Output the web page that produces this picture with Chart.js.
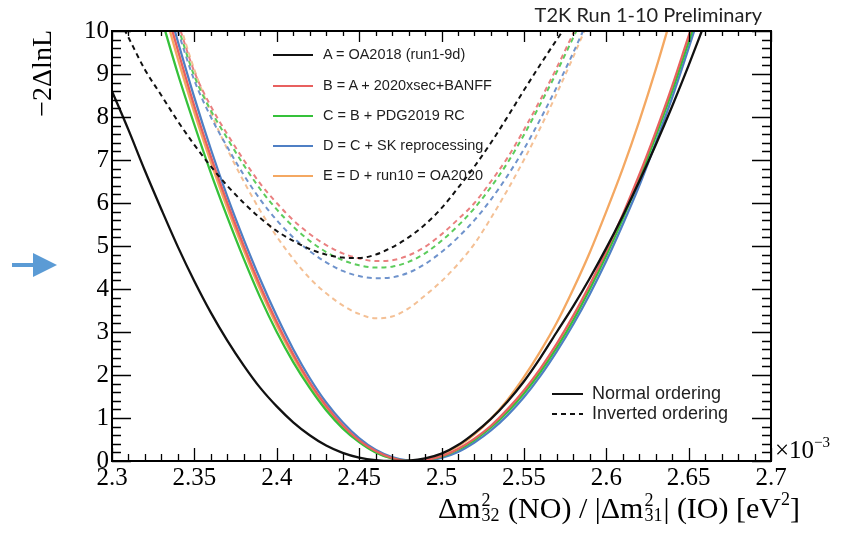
<!DOCTYPE html>
<html>
<head>
<meta charset="utf-8">
<script src="https://cdn.jsdelivr.net/npm/chart.js@4.4.1/dist/chart.umd.min.js"></script>
<style>
  html, body { margin: 0; padding: 0; background: #fff; }
  #wrap { position: relative; width: 853px; height: 535px; overflow: hidden; background: #fff; }
  #c { position: absolute; left: 0; top: 0; }
  .txt { position: absolute; white-space: nowrap; color: #000; }
  #title { right: 91px; top: 2px; font: 20px Lato, "Open Sans", sans-serif; color: #222; }
  #ytitle { left: 27px; top: 150px; width: 120px; text-align: right; transform: rotate(-90deg); transform-origin: left top; font: 28px "Liberation Serif", serif; line-height: 30px; }
  #xtitle { right: 53px; top: 492px; font: 30px "Liberation Serif", serif; line-height: 32px; }
  .ss { display: inline-flex; flex-direction: column; font-size: 18px; line-height: 15px; vertical-align: 12px; margin-left: 1px; margin-right: 1px; }
  #xtitle sup { font-size: 18px; vertical-align: 13px; line-height: 0; }
  #expo { left: 775px; top: 436px; font: 25px "Liberation Serif", serif; line-height: 28px; }
  #expo sup { font-size: 15px; vertical-align: 11px; line-height: 0; }
  .leg { position: absolute; font: 14.5px "Liberation Sans", Arial, sans-serif; color: #1e1e1e; white-space: nowrap; }
  .leg .s { position: absolute; left: -50px; top: 8px; width: 40px; height: 0; border-top: 2px solid #000; }
  .leg2 { position: absolute; font: 18px "Liberation Sans", Arial, sans-serif; color: #1e1e1e; white-space: nowrap; }
  .leg2 .s { position: absolute; left: -40px; top: 10px; width: 31px; height: 2px; }
</style>
</head>
<body>
<div id="wrap">
  <canvas id="c" width="853" height="535"></canvas>
  <div id="title" class="txt">T2K Run 1-10 Preliminary</div>
  <div id="ytitle" class="txt">−2ΔlnL</div>
  <div id="xtitle" class="txt">Δm<span class="ss"><span>2</span><span>32</span></span> (NO) / |Δm<span class="ss"><span>2</span><span>31</span></span>| (IO) [eV<sup>2</sup>]</div>
  <div id="expo" class="txt">×10<sup>−3</sup></div>

  <div class="leg" style="left:323px; top:46px;"><span class="s" style="border-color:#111;"></span>A = OA2018 (run1-9d)</div>
  <div class="leg" style="left:323px; top:77px;"><span class="s" style="border-color:#e8605f;"></span>B = A + 2020xsec+BANFF</div>
  <div class="leg" style="left:323px; top:107px;"><span class="s" style="border-color:#35c13a;"></span>C = B + PDG2019 RC</div>
  <div class="leg" style="left:323px; top:137px;"><span class="s" style="border-color:#4f7fc4;"></span>D = C + SK reprocessing</div>
  <div class="leg" style="left:323px; top:167px;"><span class="s" style="border-color:#f4a862;"></span>E = D + run10 = OA2020</div>

  <div class="leg2" style="left:592px; top:383px;"><span class="s" style="background:#111;"></span>Normal ordering</div>
  <div class="leg2" style="left:592px; top:403px;"><span class="s" style="background:repeating-linear-gradient(to right,#111 0 5px,transparent 5px 9px);"></span>Inverted ordering</div>

  <svg style="position:absolute;left:0;top:240px;" width="70" height="50">
    <line x1="12" y1="25" x2="36" y2="25" stroke="#5b9bd5" stroke-width="4"/>
    <polygon points="33,13 57,25 33,37" fill="#5b9bd5"/>
  </svg>
</div>
<script>
// x grid (10^-3 eV^2)
const dm2 = [2.30,2.31,2.32,2.33,2.34,2.35,2.36,2.37,2.38,2.39,
             2.40,2.41,2.42,2.43,2.44,2.45,2.46,2.47,2.48,2.49,
             2.50,2.51,2.52,2.53,2.54,2.55,2.56,2.57,2.58,2.59,
             2.60,2.61,2.62,2.63,2.64,2.65,2.66,2.67,2.68,2.69,2.70];
const xTicks = [2.3,2.35,2.4,2.45,2.5,2.55,2.6,2.65,2.7];
const yTicks = [0,1,2,3,4,5,6,7,8,9,10];

// Normal ordering (solid)
const A_NO = [8.6,7.7,6.75,5.85,4.98,4.18,3.45,2.8,2.22,1.7,
              1.27,0.9,0.6,0.36,0.19,0.08,0.02,0.0,0.01,0.06,
              0.17,0.37,0.65,0.98,1.38,1.85,2.4,3.0,3.6,4.25,
              4.95,5.7,6.5,7.35,8.25,9.2,10.2,null,null,null,null];
const B_NO = [null,null,12.2,10.9,9.55,8.25,7.08,6.0,5.0,4.07,
              3.23,2.48,1.83,1.28,0.83,0.48,0.23,0.07,0.0,0.02,
              0.11,0.28,0.52,0.82,1.2,1.64,2.15,2.73,3.38,4.1,
              4.88,5.73,6.65,7.65,8.72,9.88,11.0,null,null,null,null];
const C_NO = [null,null,11.6,10.3,9.0,7.82,6.7,5.67,4.7,3.8,
              3.0,2.3,1.7,1.18,0.76,0.44,0.2,0.06,0.0,0.02,
              0.1,0.26,0.49,0.78,1.14,1.57,2.07,2.64,3.28,4.0,
              4.78,5.63,6.55,7.55,8.6,9.75,10.9,null,null,null,null];
const D_NO = [null,null,12.4,11.1,9.75,8.45,7.25,6.15,5.15,4.22,
              3.37,2.6,1.93,1.36,0.9,0.53,0.26,0.09,0.01,0.0,
              0.07,0.21,0.43,0.71,1.06,1.48,1.98,2.55,3.18,3.88,
              4.65,5.5,6.4,7.4,8.45,9.6,10.8,null,null,null,null];
const E_NO = [null,null,12.0,10.7,9.35,8.1,6.95,5.88,4.9,3.98,
              3.15,2.42,1.78,1.24,0.8,0.46,0.21,0.06,0.0,0.04,
              0.15,0.34,0.62,0.98,1.42,1.95,2.55,3.22,4.0,4.85,
              5.8,6.8,7.9,9.1,10.4,null,null,null,null,null,null];

// Inverted ordering (dashed)
const A_IO = [10.6,9.85,9.1,8.5,7.9,7.35,6.85,6.4,6.0,5.65,
              5.35,5.12,4.93,4.8,4.73,4.72,4.8,4.97,5.2,5.5,
              5.88,6.35,6.85,7.4,8.0,8.62,9.22,9.8,10.35,null,
              null,null,null,null,null,null,null,null,null,null,null];
const B_IO = [null,null,null,null,10.2,9.05,8.25,7.6,7.0,6.45,
              6.0,5.6,5.28,5.02,4.83,4.71,4.65,4.67,4.78,4.98,
              5.27,5.62,6.0,6.5,7.05,7.7,8.4,9.15,9.95,10.75,
              null,null,null,null,null,null,null,null,null,null,null];
const C_IO = [null,null,null,null,10.1,8.95,8.15,7.5,6.88,6.32,
              5.85,5.45,5.12,4.86,4.67,4.55,4.5,4.52,4.63,4.83,
              5.12,5.47,5.88,6.37,6.93,7.58,8.3,9.05,9.85,10.65,
              null,null,null,null,null,null,null,null,null,null,null];
const D_IO = [null,null,null,11.2,10.0,8.85,8.0,7.3,6.65,6.08,
              5.6,5.2,4.88,4.62,4.42,4.3,4.25,4.27,4.38,4.58,
              4.86,5.2,5.6,6.08,6.63,7.25,7.95,8.7,9.5,10.35,
              null,null,null,null,null,null,null,null,null,null,null];
const E_IO = [null,null,null,null,10.3,9.1,8.1,7.25,6.5,5.82,
              5.22,4.7,4.25,3.9,3.62,3.42,3.32,3.36,3.55,3.85,
              4.18,4.58,5.05,5.65,6.3,7.0,7.75,8.55,9.4,10.3,
              null,null,null,null,null,null,null,null,null,null,null];

function pts(arr) { return dm2.map((x, i) => ({ x: x, y: arr[i] })); }
function ds(label, arr, color, dashed) {
  return {
    label: label, data: pts(arr), borderColor: color, borderWidth: dashed ? 2 : 2.3,
    borderDash: dashed ? [5, 4] : [], pointRadius: 0, fill: false, clip: 0,
    cubicInterpolationMode: 'monotone', spanGaps: false
  };
}

const frameTicks = {
  id: 'frameTicks',
  afterDatasetsDraw(chart) {
    const { ctx, chartArea: a, scales: { x, y } } = chart;
    ctx.save();
    ctx.strokeStyle = '#000';
    ctx.lineWidth = 1.3;
    ctx.beginPath();
    for (let i = 0; i <= 40; i++) {
      const px = Math.round(x.getPixelForValue(2.3 + i * 0.01)) + 0.5;
      const major = i % 5 === 0;
      ctx.moveTo(px, a.bottom); ctx.lineTo(px, a.bottom - (major ? 13 : 7));
      ctx.moveTo(px, a.top); ctx.lineTo(px, a.top + (major ? 11 : 5));
    }
    for (let i = 0; i <= 50; i++) {
      const py = Math.round(y.getPixelForValue(i * 0.2)) + 0.5;
      const major = i % 5 === 0;
      ctx.moveTo(a.left, py); ctx.lineTo(a.left + (major ? 19 : 9), py);
      ctx.moveTo(a.right, py); ctx.lineTo(a.right - (major ? 19 : 9), py);
    }
    ctx.stroke();
    ctx.lineWidth = 2;
    ctx.strokeRect(a.left, a.top, a.right - a.left, a.bottom - a.top);
    ctx.restore();
  }
};

new Chart(document.getElementById('c'), {
  type: 'line',
  data: {
    datasets: [
      ds('A IO', A_IO, '#111111', true),
      ds('B IO', B_IO, '#ea8080', true),
      ds('C IO', C_IO, '#5ccc5c', true),
      ds('D IO', D_IO, '#6f93cc', true),
      ds('E IO', E_IO, '#f4c095', true),
      ds('A NO', A_NO, '#111111', false),
      ds('B NO', B_NO, '#e8605f', false),
      ds('C NO', C_NO, '#35c13a', false),
      ds('D NO', D_NO, '#4f7fc4', false),
      ds('E NO', E_NO, '#f4a862', false)
    ]
  },
  options: {
    responsive: false, animation: false, devicePixelRatio: 1,
    layout: { padding: { left: 0, top: 31, right: 82, bottom: 0 } },
    plugins: { legend: { display: false }, tooltip: { enabled: false } },
    scales: {
      x: {
        type: 'linear', min: 2.3, max: 2.7,
        grid: { display: false, drawTicks: false }, border: { display: false },
        afterBuildTicks: s => { s.ticks = xTicks.map(v => ({ value: v })); },
        afterFit: s => { s.height = 74; s.paddingLeft = 0; s.paddingRight = 0; },
        ticks: {
          autoSkip: false, maxRotation: 0, padding: 2, color: '#000',
          font: { family: 'Liberation Serif', size: 25 },
          callback: v => String(Math.round(v * 100) / 100)
        }
      },
      y: {
        type: 'linear', min: 0, max: 10,
        grid: { display: false, drawTicks: false }, border: { display: false },
        afterBuildTicks: s => { s.ticks = yTicks.map(v => ({ value: v })); },
        afterFit: s => { s.width = 112; s.paddingTop = 0; s.paddingBottom = 0; },
        ticks: {
          autoSkip: false, padding: 3, color: '#000',
          font: { family: 'Liberation Serif', size: 25 },
          callback: v => String(v)
        }
      }
    }
  },
  plugins: [frameTicks]
});
</script>
</body>
</html>
